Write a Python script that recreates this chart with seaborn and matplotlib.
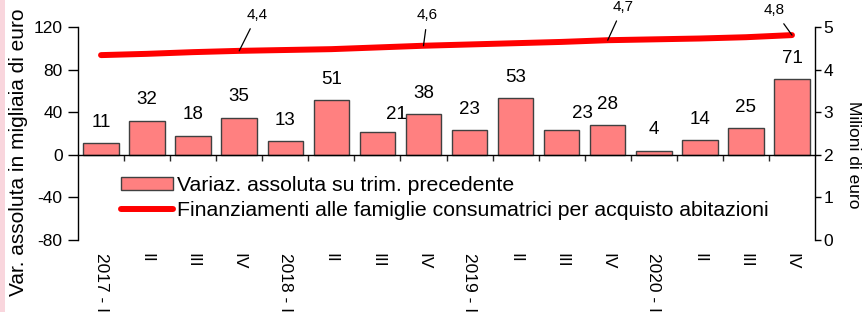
import numpy as np
import pandas as pd
import matplotlib
matplotlib.use("Agg")
import matplotlib.pyplot as plt
from matplotlib.patches import Rectangle
import seaborn as sns

# ---- data ----
periods = ["2017Q1", "2017Q2", "2017Q3", "2017Q4",
           "2018Q1", "2018Q2", "2018Q3", "2018Q4",
           "2019Q1", "2019Q2", "2019Q3", "2019Q4",
           "2020Q1", "2020Q2", "2020Q3", "2020Q4"]
tick_labels = ["2017 - I", "II", "III", "IV",
               "2018 - I", "II", "III", "IV",
               "2019 - I", "II", "III", "IV",
               "2020 - I", "II", "III", "IV"]
variazione = [11, 32, 18, 35, 13, 51, 21, 38, 23, 53, 23, 28, 4, 14, 25, 71]
finanziamenti = [4.34, 4.37, 4.41, 4.44, 4.46, 4.48, 4.52, 4.56,
                 4.59, 4.62, 4.65, 4.69, 4.71, 4.73, 4.76, 4.81]
annotated_idx = [3, 7, 11, 15]

bar_label = "Variaz. assoluta su trim. precedente"
line_label = "Finanziamenti alle famiglie consumatrici per acquisto abitazioni"
left_ylabel = "Var. assoluta in migliaia di euro"
right_ylabel = "Milioni di euro"

df = pd.DataFrame({"periodo": periods, "variazione": variazione,
                   "finanziamenti": finanziamenti})
df["pos"] = np.arange(len(df))

# ---- style ----
sns.set_theme(style="white")
plt.rcParams["font.family"] = ["Liberation Sans", "DejaVu Sans"]
plt.rcParams["axes.unicode_minus"] = False

W, H, DPI = 864, 312, 100
fig = plt.figure(figsize=(W / DPI, H / DPI), dpi=DPI)
fig.patch.set_facecolor("white")
fig.patches.append(Rectangle((0, 0), 5 / W, 1, transform=fig.transFigure,
                             facecolor="#f9d6dd", edgecolor="none", zorder=0))

L, R, T, B = 78, 815, 27, 240
ax = fig.add_axes([L / W, 1 - B / H, (R - L) / W, (B - T) / H])
ax.set_facecolor("none")

sns.barplot(data=df, x="periodo", y="variazione", color="#ff8080",
            saturation=1, edgecolor="#404040", linewidth=1.0, width=0.77,
            ax=ax, label=bar_label, zorder=2)

ax.set_xlim(-0.5, len(periods) - 0.5)
ax.set_ylim(-80, 120)
ax.set_yticks([-80, -40, 0, 40, 80, 120])
ax.set_yticklabels(["-80", "-40", "0", "40", "80", "120"])
ax.tick_params(axis="y", direction="out", length=7, width=1, pad=4,
               labelsize=12.5, colors="black", left=True)

# x axis line at zero with ticks at category boundaries
ax.spines["bottom"].set_position(("data", 0))
ax.set_xticks(np.arange(0.5, len(periods) - 1, 1.0))
ax.set_xticklabels([])
ax.tick_params(axis="x", direction="out", length=4, width=1, bottom=True)
for s in ["top", "right"]:
    ax.spines[s].set_visible(False)
for s in ["left", "bottom"]:
    ax.spines[s].set_color("black")
    ax.spines[s].set_linewidth(1)
ax.set_xlabel("")
ax.set_ylabel(left_ylabel, fontsize=15, color="black")
ax.yaxis.set_label_coords(-0.068, 0.413)

# category labels at the bottom
for i, lab in enumerate(tick_labels):
    ax.text(i, -0.061, lab, transform=ax.get_xaxis_transform(),
            rotation=-90, ha="center", va="top", fontsize=12.5, color="black",
            clip_on=False)

# bar value labels
label_shift = {6: (14, -2), 10: (15, -3)}
for i, v in enumerate(variazione):
    dx, dy = label_shift.get(i, (0, 0))
    ax.annotate(f"{v}", xy=(i, v), xytext=(dx, 15 + dy),
                textcoords="offset points", ha="center", va="center",
                fontsize=13.5, color="black", zorder=5)

# ---- line on secondary axis ----
ax2 = ax.twinx()
ax2.set_position(ax.get_position())
sns.lineplot(data=df, x="pos", y="finanziamenti", color="#ff0000",
             linewidth=4.3, ax=ax2, label=line_label, legend=False,
             solid_capstyle="round", zorder=3)
ax2.set_ylim(0, 5)
ax2.set_yticks([0, 1, 2, 3, 4, 5])
ax2.tick_params(axis="y", direction="out", length=4, width=1, pad=2,
                labelsize=12.5, colors="black", right=True)
for s in ["top", "left", "bottom"]:
    ax2.spines[s].set_visible(False)
ax2.spines["right"].set_color("black")
ax2.spines["right"].set_linewidth(1)
ax2.set_xlabel("")
ax2.set_ylabel(right_ylabel, fontsize=12.5, rotation=-90, color="black")
ax2.yaxis.set_label_coords(1.062, 0.40)
ax2.set_xlim(-0.5, len(periods) - 0.5)

# line annotations
ann_offsets = {3: (13, 26), 7: (3, 22), 11: (11, 24), 15: (-13, 18)}
for i in annotated_idx:
    v = finanziamenti[i]
    txt = f"{v:.1f}".replace(".", ",")
    ax2.annotate(txt, xy=(i, v), xytext=ann_offsets[i],
                 textcoords="offset points", ha="center", va="center",
                 fontsize=11, color="black",
                 arrowprops=dict(arrowstyle="-", color="black", lw=0.9,
                                 shrinkA=3, shrinkB=0))

# ---- legend ----
h1, l1 = ax.get_legend_handles_labels()
h2, l2 = ax2.get_legend_handles_labels()
if ax.get_legend() is not None:
    ax.get_legend().remove()
leg = ax2.legend(h1 + h2, l1 + l2, loc="upper left",
                 bbox_to_anchor=(121 / W, 1 - 176 / H),
                 bbox_transform=fig.transFigure, frameon=False,
                 fontsize=15.3, handlelength=2.45, handletextpad=0.2,
                 handleheight=0.55,
                 labelspacing=0.3, borderpad=0, borderaxespad=0)
for t in leg.get_texts():
    t.set_color("black")

fig.savefig("out.png", dpi=DPI)
